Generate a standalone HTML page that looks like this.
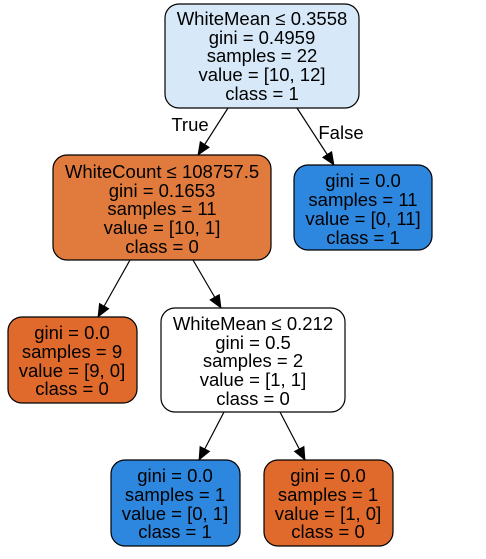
<!DOCTYPE html>
<html><head><meta charset="utf-8"><style>
html,body{margin:0;padding:0;background:#fff;width:486px;height:559px;overflow:hidden}
text{font-family:"Liberation Sans",Arial,sans-serif;font-size:18.5px;fill:#000;text-anchor:middle}
</style></head><body>
<svg width="486" height="559" viewBox="0 0 486 559" xmlns="http://www.w3.org/2000/svg">
<defs><marker id="a" markerWidth="14" markerHeight="12" refX="13" refY="6" orient="auto" markerUnits="userSpaceOnUse"><path d="M0,0 L14,6 L0,12 z" fill="#000"/></marker></defs>
<g stroke="#000" stroke-width="1.2" fill="none">
<line x1="228" y1="108" x2="198" y2="155" marker-end="url(#a)"/>
<line x1="297" y1="108" x2="334" y2="165" marker-end="url(#a)"/>
<line x1="130" y1="260" x2="98" y2="317" marker-end="url(#a)"/>
<line x1="193" y1="260" x2="221" y2="308" marker-end="url(#a)"/>
<line x1="224" y1="412" x2="199" y2="460" marker-end="url(#a)"/>
<line x1="280" y1="412" x2="305" y2="460" marker-end="url(#a)"/>
</g>
<g stroke="#000" stroke-width="1.2">
<rect x="165" y="4" width="194" height="104" rx="14" fill="#d7e9f9"/>
<rect x="53" y="155" width="218" height="105" rx="14" fill="#e17a3d"/>
<rect x="294" y="165" width="138" height="85" rx="14" fill="#2e87de"/>
<rect x="8" y="317" width="129" height="86" rx="14" fill="#e06a2c"/>
<rect x="161" y="308" width="184" height="104" rx="14" fill="#fff"/>
<rect x="111" y="460" width="129" height="86" rx="14" fill="#2e87de"/>
<rect x="264" y="460" width="129" height="86" rx="14" fill="#e06a2c"/>
</g>
<text x="190" y="131">True</text>
<text x="341" y="139">False</text>
<text x="262" y="25">WhiteMean ≤ 0.3558</text>
<text x="262" y="44">gini = 0.4959</text>
<text x="262" y="62">samples = 22</text>
<text x="262" y="81">value = [10, 12]</text>
<text x="262" y="100">class = 1</text>
<text x="162" y="178">WhiteCount ≤ 108757.5</text>
<text x="162" y="197">gini = 0.1653</text>
<text x="162" y="215">samples = 11</text>
<text x="162" y="234">value = [10, 1]</text>
<text x="162" y="253">class = 0</text>
<text x="363" y="187">gini = 0.0</text>
<text x="363" y="206">samples = 11</text>
<text x="363" y="225">value = [0, 11]</text>
<text x="363" y="244">class = 1</text>
<text x="72" y="339">gini = 0.0</text>
<text x="72" y="358">samples = 9</text>
<text x="72" y="377">value = [9, 0]</text>
<text x="72" y="395">class = 0</text>
<text x="253" y="330">WhiteMean ≤ 0.212</text>
<text x="253" y="349">gini = 0.5</text>
<text x="253" y="367">samples = 2</text>
<text x="253" y="386">value = [1, 1]</text>
<text x="253" y="405">class = 0</text>
<text x="175" y="482">gini = 0.0</text>
<text x="175" y="501">samples = 1</text>
<text x="175" y="520">value = [0, 1]</text>
<text x="175" y="538">class = 1</text>
<text x="328" y="482">gini = 0.0</text>
<text x="328" y="501">samples = 1</text>
<text x="328" y="520">value = [1, 0]</text>
<text x="328" y="538">class = 0</text>
</svg>
</body></html>
